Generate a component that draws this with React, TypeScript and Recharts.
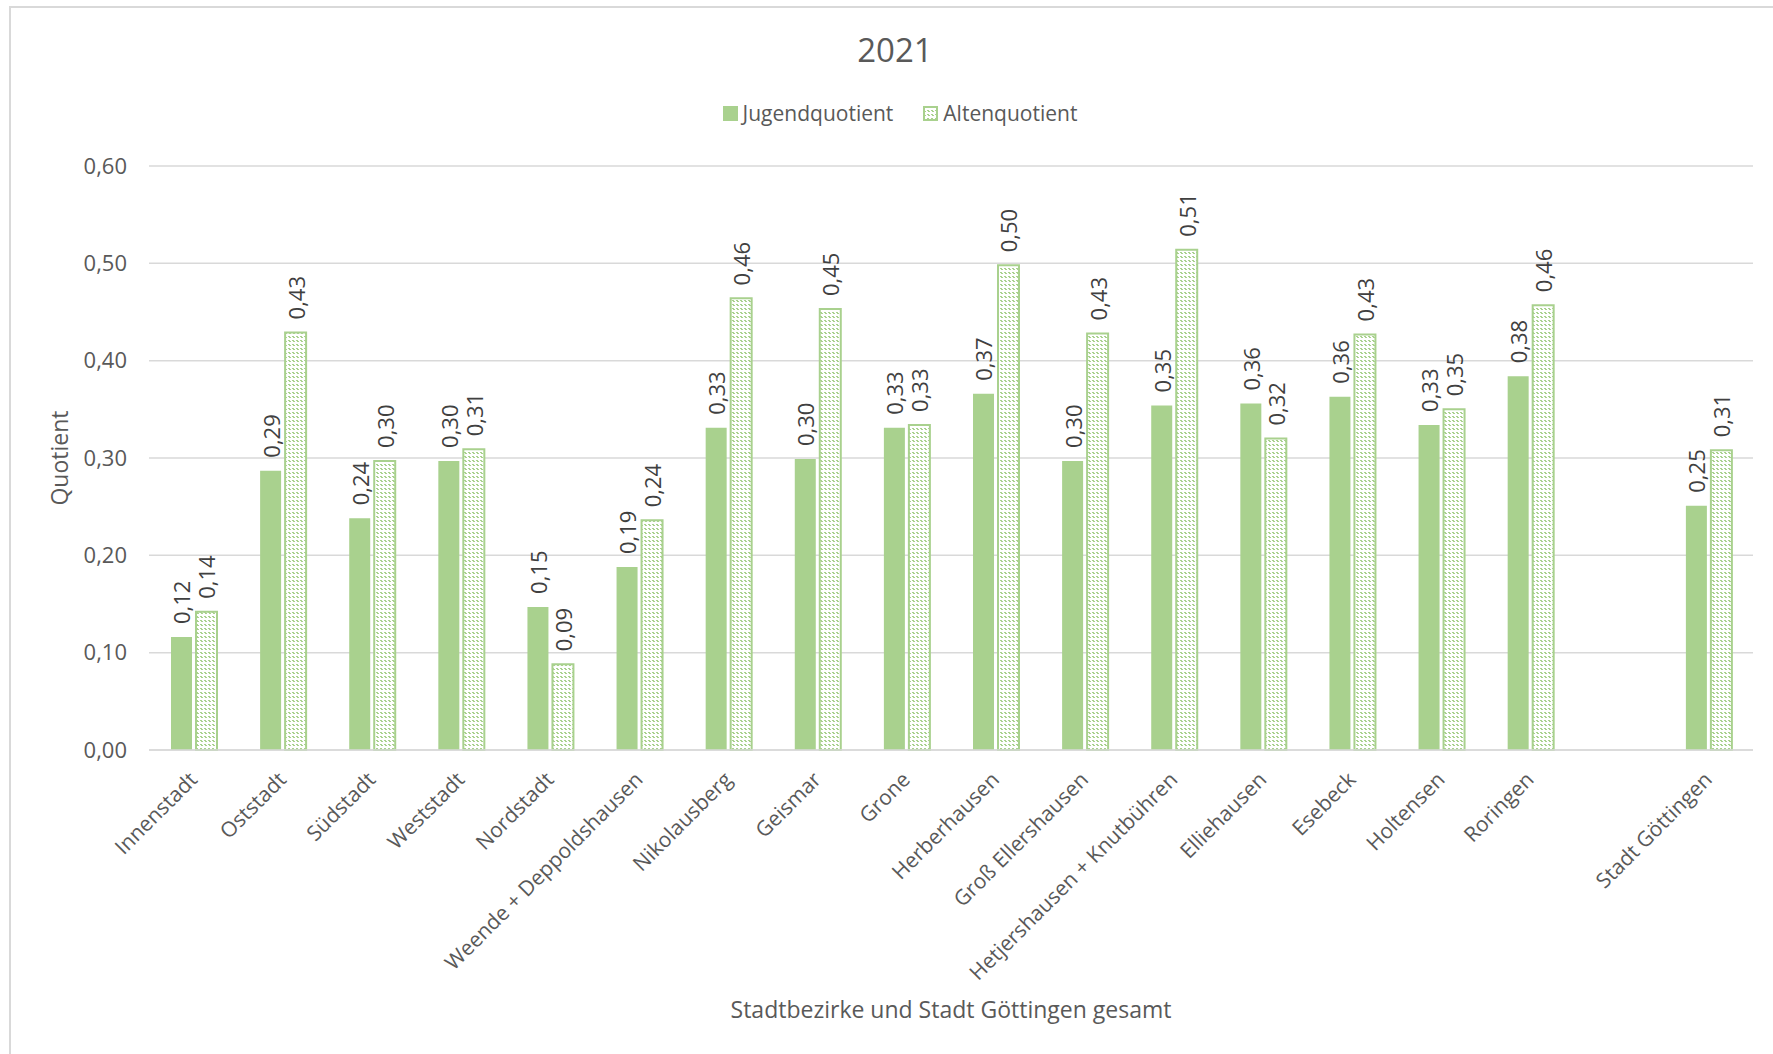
import React from 'react';
import { BarChart, Bar, XAxis, YAxis, CartesianGrid, Legend, LabelList, Label } from 'recharts';

const categories = [
  'Innenstadt', 'Oststadt', 'Südstadt', 'Weststadt', 'Nordstadt',
  'Weende + Deppoldshausen', 'Nikolausberg', 'Geismar', 'Grone', 'Herberhausen',
  'Groß Ellershausen', 'Hetjershausen + Knutbühren', 'Elliehausen', 'Esebeck',
  'Holtensen', 'Roringen', '', 'Stadt Göttingen',
];
const jugendquotient = [0.116, 0.287, 0.238, 0.297, 0.147, 0.188, 0.331, 0.299, 0.331, 0.366, 0.297, 0.354, 0.356, 0.363, 0.334, 0.384, null, 0.251];
const altenquotient = [0.142, 0.429, 0.297, 0.309, 0.088, 0.236, 0.464, 0.453, 0.334, 0.498, 0.428, 0.514, 0.320, 0.427, 0.350, 0.457, null, 0.308];
const yTicks = [0, 0.1, 0.2, 0.3, 0.4, 0.5, 0.6];
const seriesNames = ['Jugendquotient', 'Altenquotient'];
const chartTitle = '2021';
const xTitle = 'Stadtbezirke und Stadt Göttingen gesamt';
const yTitle = 'Quotient';

const data = categories.map((name, i) => ({
  name,
  jugend: jugendquotient[i],
  alten: altenquotient[i],
}));

const GREEN = '#a9d18e';
const TEXT = '#595959';
const LABEL = '#404040';
const FONT = '"Open Sans", sans-serif';

const fmt = (v: number) => v.toFixed(2).replace('.', ',');

const PatternDef = ({ id }: { id: string }) => (
  <pattern id={id} x={0} y={0} width={4} height={4} patternUnits="userSpaceOnUse">
    <rect x={0} y={0} width={4} height={4} fill="#ffffff" />
    <rect x={0} y={0} width={2} height={1} fill={GREEN} shapeRendering="crispEdges" />
    <rect x={1} y={1} width={2} height={1} fill={GREEN} shapeRendering="crispEdges" />
  </pattern>
);

const XTick = (props: any) => {
  const { x, y, payload } = props;
  return (
    <g transform={`translate(${x + 5},${y + 23})`}>
      <text x={0} y={0} textAnchor="end" transform="rotate(-45)" fill={TEXT} fontSize={21} fontFamily={FONT}>
        {payload.value}
      </text>
    </g>
  );
};

const makeLabel = (props: any) => {
  const { x, y, width, value } = props;
  if (value === null || value === undefined) return null;
  const cx = x + width / 2;
  const ty = y - 13;
  return (
    <text x={cx} y={ty} transform={`rotate(-90 ${cx} ${ty})`} textAnchor="start" dominantBaseline="central"
      fill={LABEL} fontSize={22} fontFamily={FONT}>
      {fmt(value)}
    </text>
  );
};

const LegendContent = () => (
  <div style={{ display: 'flex', justifyContent: 'center', alignItems: 'center', fontFamily: FONT, fontSize: 21, color: TEXT }}>
    <div style={{ display: 'flex', alignItems: 'center', marginRight: 30 }}>
      <svg width={15} height={15} style={{ marginRight: 5 }}>
        <rect x={0} y={0} width={15} height={15} fill={GREEN} />
      </svg>
      <span>{seriesNames[0]}</span>
    </div>
    <div style={{ display: 'flex', alignItems: 'center' }}>
      <svg width={15} height={15} style={{ marginRight: 5 }}>
        <defs><PatternDef id="legendPat" /></defs>
        <rect x={1} y={1} width={13} height={13} fill="url(#legendPat)" stroke={GREEN} strokeWidth={2} />
      </svg>
      <span>{seriesNames[1]}</span>
    </div>
  </div>
);

export default function App() {
  return (
    <div style={{ position: 'absolute', left: 0, top: 0, width: 1773, height: 1054, background: '#ffffff', overflow: 'hidden' }}>
      <div style={{ position: 'absolute', left: 9, top: 6, width: 1800, height: 1100, borderTop: '2px solid #d9d9d9', borderLeft: '2px solid #d9d9d9' }} />
      <div style={{ position: 'absolute', left: 0, width: 1790, top: 28, textAlign: 'center', fontFamily: FONT, fontSize: 33, color: TEXT, lineHeight: '44px' }}>
        {chartTitle}
      </div>
      <div style={{ position: 'absolute', left: 0, top: 0 }}>
        <BarChart width={1773} height={1054} data={data}
          margin={{ top: 166, right: 20, bottom: 64, left: 69 }} barGap={4}>
          <defs>
            <PatternDef id="altenPat" />
          </defs>
          <CartesianGrid horizontal vertical={false} stroke="#d9d9d9" strokeWidth={1.5} />
          <XAxis dataKey="name" interval={0} height={240} tick={<XTick />} tickLine={false}
            axisLine={{ stroke: '#d9d9d9', strokeWidth: 1.5 }}>
            <Label value={xTitle} position="bottom" offset={12} fill={TEXT} fontSize={23} fontFamily={FONT} />
          </XAxis>
          <YAxis width={80} domain={[0, 0.6]} ticks={yTicks} tickFormatter={fmt} axisLine={false} tickLine={false}
            tickMargin={16} tick={{ fill: TEXT, fontSize: 22, fontFamily: FONT }}>
            <Label value={yTitle} angle={-90} position="insideLeft" offset={-9} fill={TEXT} fontSize={23} fontFamily={FONT}
              style={{ textAnchor: 'middle' }} />
          </YAxis>
          <Legend layout="horizontal" verticalAlign="middle" align="center" content={<LegendContent />}
            wrapperStyle={{ top: 99, left: 0, width: 1800, height: 30 }} />
          <Bar dataKey="jugend" name={seriesNames[0]} fill={GREEN} barSize={21} isAnimationActive={false}>
            <LabelList dataKey="jugend" content={makeLabel} />
          </Bar>
          <Bar dataKey="alten" name={seriesNames[1]} fill="url(#altenPat)" stroke={GREEN} strokeWidth={2} barSize={21} isAnimationActive={false}>
            <LabelList dataKey="alten" content={makeLabel} />
          </Bar>
        </BarChart>
      </div>
    </div>
  );
}
